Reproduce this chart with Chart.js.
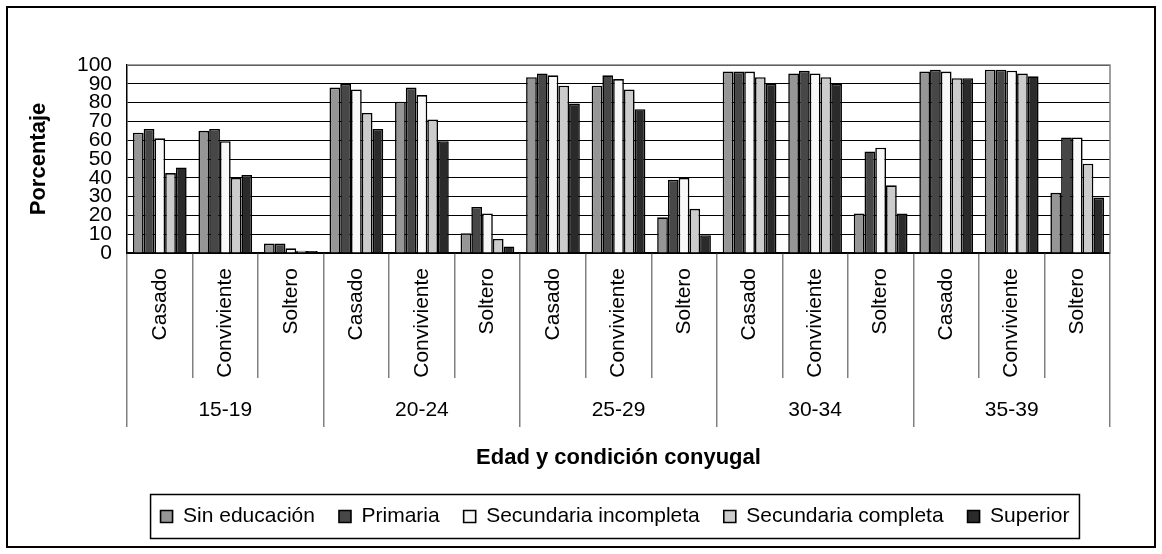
<!DOCTYPE html>
<html>
<head>
<meta charset="utf-8">
<script src="https://cdn.jsdelivr.net/npm/chart.js@4/dist/chart.umd.min.js"></script>
<style>
  html, body { margin: 0; padding: 0; background: #fff; }
  #wrap { width: 1162px; height: 554px; position: relative; }
</style>
</head>
<body>
<div id="wrap"><canvas id="c" width="1162" height="554"></canvas></div>
<script>
const categories = ['Casado','Conviviente','Soltero','Casado','Conviviente','Soltero','Casado','Conviviente','Soltero','Casado','Conviviente','Soltero','Casado','Conviviente','Soltero'];
const ageGroups = ['15-19','20-24','25-29','30-34','35-39'];
const yTicks = [0,10,20,30,40,50,60,70,80,90,100];

const sinEducacion  = [64, 65, 5, 88, 80.5, 10.5, 93.5, 89, 19, 96.5, 95.5, 21, 96.5, 97.5, 32];
const primaria      = [66, 66, 5, 90, 88, 24.5, 95.5, 94.5, 39, 96.5, 97, 54, 97.5, 97.5, 61.5];
const secIncompleta = [61, 59.5, 2.5, 87, 84, 21, 94.5, 92.5, 40, 96.5, 95.5, 56, 96.5, 97, 61.5];
const secCompleta   = [42.5, 40, 1.2, 74.5, 71, 7.5, 89, 87, 23.5, 93.5, 93.5, 36, 93, 95.5, 47.5];
const superior      = [45.5, 41.5, 1, 66, 59.5, 3.5, 79.5, 76.5, 9.5, 90, 90, 21, 93, 94, 29.5];

const seriesNames = ['Sin educación','Primaria','Secundaria incompleta','Secundaria completa','Superior'];
const seriesData = [sinEducacion, primaria, secIncompleta, secCompleta, superior];
const seriesColors = ['#969696','#474747','#f8f8f8','#cccccc','#2a2a2a'];

const FONT = "'Liberation Sans', Arial, sans-serif";
const LEGEND_SHIFT = 56;

const framePlugin = {
  id: 'frame',
  afterLayout(chart) {
    const lg = chart.legend;
    if (lg) { lg.left += LEGEND_SHIFT; lg.right += LEGEND_SHIFT; }
  },
  beforeDraw(chart) {
    const ctx = chart.ctx;
    ctx.save();
    ctx.fillStyle = '#fff';
    ctx.fillRect(0, 0, chart.width, chart.height);
    ctx.strokeStyle = '#000';
    ctx.lineWidth = 2;
    ctx.strokeRect(7, 7, 1148, 540);
    ctx.restore();
  },
  beforeDatasetsDraw(chart) {
    const a = chart.chartArea;
    const ctx = chart.ctx;
    ctx.save();
    ctx.strokeStyle = '#808080';
    ctx.lineWidth = 1.5;
    ctx.beginPath();
    ctx.moveTo(a.left, a.top);
    ctx.lineTo(a.right, a.top);
    ctx.lineTo(a.right, a.bottom);
    ctx.stroke();
    ctx.restore();
  },
  afterDraw(chart) {
    const lg = chart.legend;
    if (!lg || !lg.legendHitBoxes || !lg.legendHitBoxes.length) return;
    const hb = lg.legendHitBoxes;
    let l = Infinity, r = -Infinity, cy = 0;
    hb.forEach(b => { l = Math.min(l, b.left); r = Math.max(r, b.left + b.width); cy += b.top + b.height / 2; });
    cy /= hb.length;
    const ctx = chart.ctx;
    ctx.save();
    ctx.strokeStyle = '#000';
    ctx.lineWidth = 1.5;
    ctx.strokeRect(l - 10, cy - 22, (r - l) + 20, 44);
    ctx.restore();
  }
};

new Chart(document.getElementById('c'), {
  type: 'bar',
  data: {
    labels: categories,
    datasets: seriesNames.map((n, i) => ({
      label: n,
      data: seriesData[i],
      backgroundColor: seriesColors[i],
      borderColor: '#000',
      borderWidth: 1.6,
      categoryPercentage: 0.82,
      barPercentage: 1.0
    }))
  },
  options: {
    responsive: false,
    animation: false,
    devicePixelRatio: 1,
    layout: { padding: { left: 8, right: 52, top: 65, bottom: 17 } },
    plugins: {
      tooltip: { enabled: false },
      legend: {
        position: 'bottom',
        labels: {
          boxWidth: 12, boxHeight: 12, padding: 24,
          color: '#000',
          font: { family: FONT, size: 21 }
        }
      }
    },
    scales: {
      y: {
        min: 0, max: 100,
        afterFit: s => { s.width = 119; },
        ticks: {
          stepSize: 10, autoSkip: false, padding: 15, color: '#000',
          font: { family: FONT, size: 21, lineHeight: 1 },
          callback: v => yTicks.includes(v) ? String(v) : ''
        },
        grid: { color: '#000', lineWidth: 1, drawTicks: false },
        border: { display: true, color: '#000', width: 1.5 },
        title: {
          display: true, text: 'Porcentaje', color: '#000',
          font: { family: FONT, size: 22, weight: 'bold' },
          padding: { top: 18, bottom: 0 }
        }
      },
      x: {
        position: 'bottom',
        weight: 0,
        offset: true,
        afterFit: s => { s.height = 125; },
        grid: { offset: true, drawOnChartArea: false, drawTicks: true, tickLength: 125, color: '#808080', lineWidth: 1.5 },
        border: { display: true, color: '#000', width: 1.5 },
        ticks: {
          autoSkip: false, minRotation: 90, maxRotation: 90, padding: -110, color: '#000',
          font: { family: FONT, size: 21 }
        }
      },
      xGroup: {
        type: 'category',
        axis: 'x',
        position: 'bottom',
        weight: 1,
        labels: ageGroups,
        offset: true,
        afterFit: s => { s.height = 104; },
        grid: { offset: true, drawOnChartArea: false, drawTicks: true, tickLength: 49, color: '#808080', lineWidth: 1.5 },
        border: { display: false },
        ticks: {
          autoSkip: false, maxRotation: 0, padding: -29, color: '#000',
          font: { family: FONT, size: 21 }
        },
        title: {
          display: true, text: 'Edad y condición conyugal', color: '#000',
          font: { family: FONT, size: 22, weight: 'bold' },
          padding: { top: 0, bottom: 11 }
        }
      }
    }
  },
  plugins: [framePlugin]
});
</script>
</body>
</html>
